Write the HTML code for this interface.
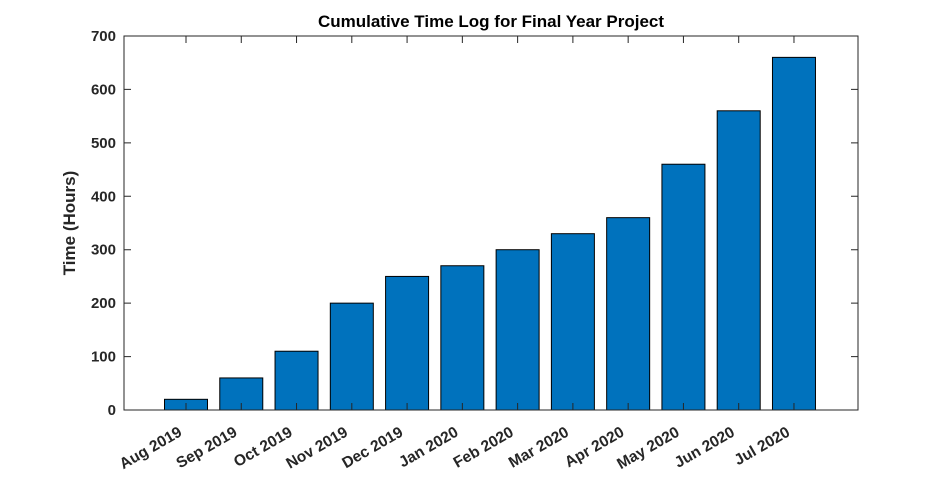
<!DOCTYPE html>
<html><head><meta charset="utf-8"><style>
body{margin:0;background:#fff;}
svg{display:block;font-family:"Liberation Sans",Arial,sans-serif;font-weight:bold;}
</style></head><body>
<svg id="chart" width="948" height="479" viewBox="0 0 948 479">
<rect x="0" y="0" width="948" height="479" fill="#fff"/>
<text x="491" y="27" text-anchor="middle" font-size="17" fill="#000">Cumulative Time Log for Final Year Project</text>
<text transform="translate(75,223) rotate(-90)" text-anchor="middle" font-size="17" fill="#262626">Time (Hours)</text>
<g id="bars"></g>
<rect x="124" y="36" width="734" height="374" fill="none" stroke="#262626" stroke-width="1"/>
<g id="yticks"></g>
<g id="xticks"></g>
</svg>
<script>
const categories=["Aug 2019","Sep 2019","Oct 2019","Nov 2019","Dec 2019","Jan 2020","Feb 2020","Mar 2020","Apr 2020","May 2020","Jun 2020","Jul 2020"];
const hours=[20,60,110,200,250,270,300,330,360,460,560,660];
const yTicks=[0,100,200,300,400,500,600,700];
const ns="http://www.w3.org/2000/svg";
const L=124,R=858,T=36,B=410,yMax=700;
const step=55.27, x0=186;
function xPos(i){return x0+i*step;}
function yPos(v){return B-(v/yMax)*(B-T);}
const bw=43;
const bars=document.getElementById('bars');
hours.forEach((v,i)=>{
 const r=document.createElementNS(ns,'rect');
 r.setAttribute('x',xPos(i)-bw/2);r.setAttribute('y',yPos(v));
 r.setAttribute('width',bw);r.setAttribute('height',yPos(0)-yPos(v));
 r.setAttribute('fill','#0072BD');r.setAttribute('stroke','#000');r.setAttribute('stroke-width','1');
 
 
 bars.appendChild(r);
});
const yt=document.getElementById('yticks');
yTicks.forEach(t=>{
 const y=yPos(t);
 const l=document.createElementNS(ns,'path');
 l.setAttribute('d',`M${L} ${y}h7M${R} ${y}h-7`);l.setAttribute('stroke','#262626');
 
 
 yt.appendChild(l);
 const tx=document.createElementNS(ns,'text');
 tx.setAttribute('x',L-8);tx.setAttribute('y',y+5);tx.setAttribute('text-anchor','end');
 tx.setAttribute('font-size','15');tx.setAttribute('fill','#262626');tx.textContent=t;
 
 
 yt.appendChild(tx);
});
const xt=document.getElementById('xticks');
categories.forEach((c,i)=>{
 const x=xPos(i);
 const l=document.createElementNS(ns,'path');
 l.setAttribute('d',`M${x} ${B}v-7M${x} ${T}v7`);l.setAttribute('stroke','#262626');
 
 
 xt.appendChild(l);
 const tx=document.createElementNS(ns,'text');
 tx.setAttribute('transform',`translate(${x-3},${B+25}) rotate(-30)`);
 tx.setAttribute('text-anchor','end');tx.setAttribute('font-size','15.5');tx.setAttribute('fill','#262626');
 tx.textContent=c;
 
 
 xt.appendChild(tx);
});
</script>
</body></html>
